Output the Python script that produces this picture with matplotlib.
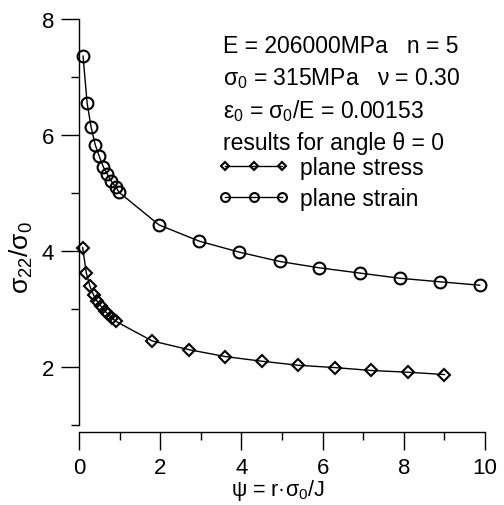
import matplotlib
matplotlib.use("Agg")
import matplotlib.pyplot as plt
from matplotlib.ticker import MultipleLocator

plt.rcParams['font.family'] = ['Liberation Sans', 'DejaVu Sans']
plt.rcParams['mathtext.fontset'] = 'custom'
plt.rcParams['mathtext.rm'] = 'Liberation Sans'
plt.rcParams['mathtext.it'] = 'Liberation Sans'
plt.rcParams['mathtext.bf'] = 'Liberation Sans:bold'

# plane stress (diamonds)
stress_x = [0.09, 0.18, 0.27, 0.36, 0.45, 0.54, 0.63, 0.72, 0.81, 0.90,
            1.80, 2.70, 3.60, 4.50, 5.40, 6.30, 7.20, 8.10, 9.00]
stress_y = [4.06, 3.62, 3.39, 3.24, 3.13, 3.05, 2.97, 2.91, 2.85, 2.79,
            2.45, 2.30, 2.18, 2.10, 2.03, 1.99, 1.94, 1.91, 1.87]

# plane strain (circles)
strain_x = [0.10, 0.20, 0.30, 0.40, 0.50, 0.60, 0.70, 0.80, 0.90, 0.99,
            1.97, 2.96, 3.95, 4.94, 5.92, 6.91, 7.90, 8.88, 9.87]
strain_y = [7.36, 6.55, 6.13, 5.83, 5.63, 5.45, 5.32, 5.20, 5.11, 5.01,
            4.45, 4.17, 3.98, 3.82, 3.71, 3.62, 3.53, 3.47, 3.41]

info_lines = ["E = 206000MPa   n = 5",
              r"$\sigma_0$ = 315MPa   ν = 0.30",
              r"$\varepsilon_0$ = $\sigma_0$/E = 0.00153",
              "results for angle θ = 0"]

fig = plt.figure(figsize=(5.04, 5.06), dpi=100)
ax = fig.add_axes([79/504, 1-426/506, (485-79)/504, (426-20)/506])

ax.plot(stress_x, stress_y, color='black', lw=1.0, marker='D', ms=6,
        mfc='none', mec='black', mew=1.5, clip_on=False, label='plane stress')
ax.plot(strain_x, strain_y, color='black', lw=1.0, marker='o', ms=8.5,
        mfc='none', mec='black', mew=1.5, clip_on=False, label='plane strain')

ax.set_xlim(0, 10)
ax.set_ylim(1, 8)
ax.xaxis.set_major_locator(MultipleLocator(2))
ax.xaxis.set_minor_locator(MultipleLocator(1))
ax.yaxis.set_major_locator(MultipleLocator(2))
ax.yaxis.set_minor_locator(MultipleLocator(1))
ax.set_yticks([2, 4, 6, 8])

for s in ['top', 'right']:
    ax.spines[s].set_visible(False)
ax.spines['bottom'].set_position(('outward', 5))
ax.spines['left'].set_linewidth(1.0)
ax.spines['bottom'].set_linewidth(1.0)
ax.tick_params(which='major', direction='out', length=13, width=1.0, labelsize=16)
ax.tick_params(axis='x', which='major', pad=5)
ax.tick_params(axis='y', which='major', pad=5)
ax.tick_params(which='minor', direction='out', length=6, width=1.0)

ax.set_xlabel(r"ψ = r·$\sigma_0$/J", fontsize=15.5)
ax.set_ylabel(r"$\sigma_{22}$/$\sigma_0$", fontsize=19)
ax.xaxis.set_label_coords(0.49, -0.127)
ax.yaxis.set_label_coords(-0.108, 0.414)

y0 = 0.919
for i, t in enumerate(info_lines):
    ax.text(0.355, y0 - i*0.080, t, transform=ax.transAxes, fontsize=16.5,
            va='baseline', ha='left')

leg = ax.legend(loc='upper left', bbox_to_anchor=(0.343, 0.662), numpoints=3,
                handlelength=3.1, markerscale=0.75, frameon=False, fontsize=16.5,
                handletextpad=0.45, labelspacing=0.32, borderaxespad=0, borderpad=0)

fig.savefig("out.png", dpi=100)
